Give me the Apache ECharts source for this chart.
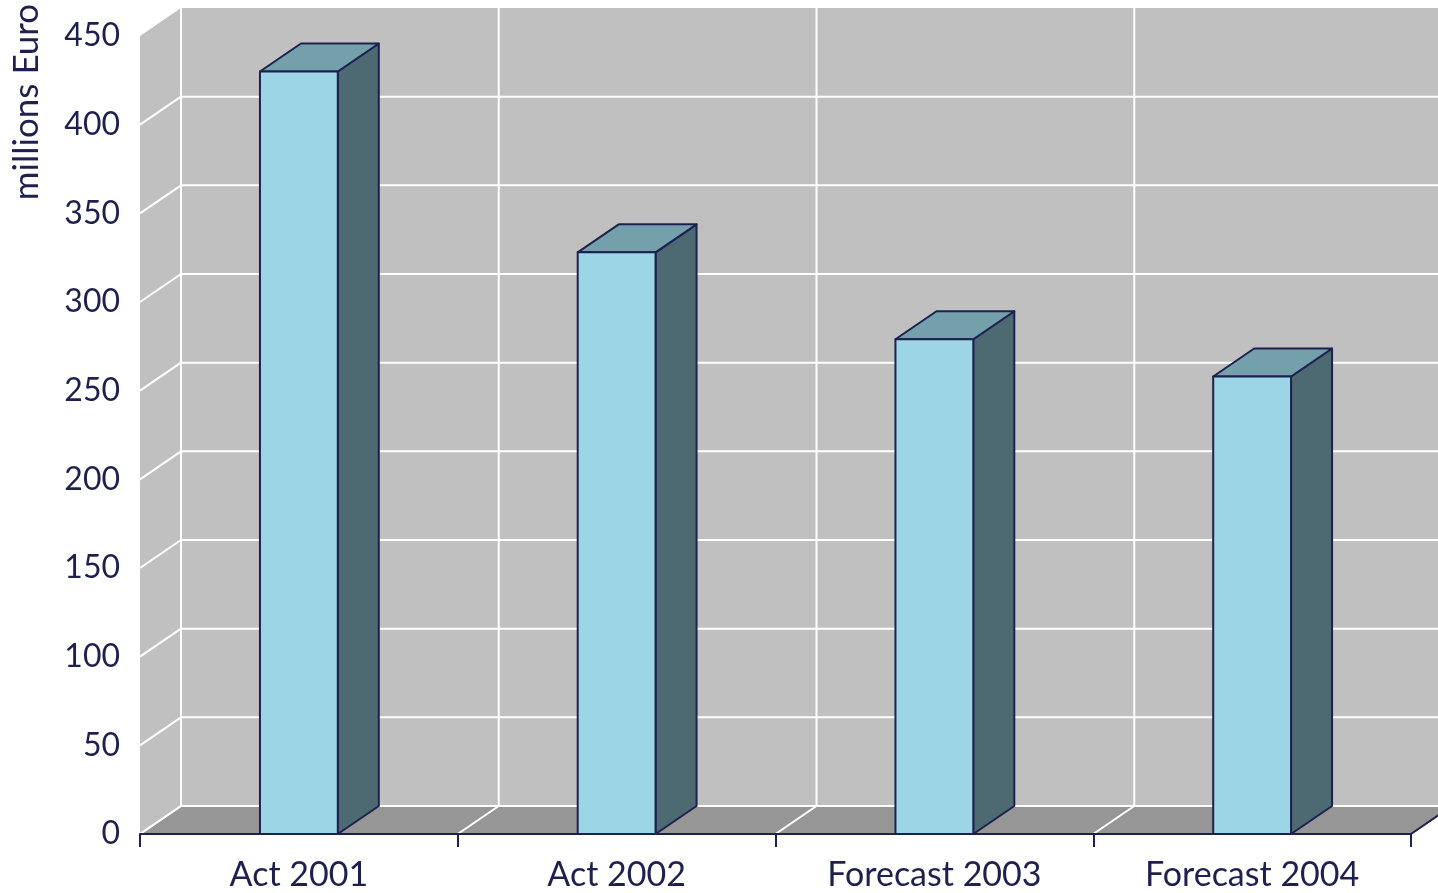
<!DOCTYPE html>
<html>
<head>
<meta charset="utf-8">
<title>millions Euro</title>
<script src="https://cdn.jsdelivr.net/npm/echarts@6/dist/echarts.min.js"></script>
<style>
  html, body { margin: 0; padding: 0; background: #ffffff; }
  #chart { width: 1438px; height: 893px; }
</style>
</head>
<body>
<div id="chart"></div>
<script>
// Chart data
const categories = ['Act 2001', 'Act 2002', 'Forecast 2003', 'Forecast 2004'];
const values = [430, 328, 279, 258];
const yTicks = [0, 50, 100, 150, 200, 250, 300, 350, 400, 450];
const yAxisTitle = 'millions Euro';

// Pseudo-3D depth offset and palette
const DX = 41, DY = -28;
const BAR_FRACTION = 0.245;
const NAVY = '#1e2150';
const WALL = '#c0c0c0';
const FLOOR = '#969696';
const FRONT = '#9cd5e5';
const TOP = '#74a0ac';
const SIDE = '#4d6a72';
const FONT = 'Lato, "Open Sans", sans-serif';

const chart = echarts.init(document.getElementById('chart'), null, { renderer: 'canvas' });

function renderWalls(params, api) {
  const bw = api.size([1, 0])[0];
  const c0 = api.coord([0, 0]);
  const left = c0[0] - bw / 2;
  const right = left + categories.length * bw;
  const yB = c0[1];
  const yT = api.coord([0, yTicks[yTicks.length - 1]])[1];
  const white = { stroke: '#ffffff', lineWidth: 2 };
  const kids = [];
  // back wall
  kids.push({ type: 'rect', shape: { x: left + DX, y: yT + DY, width: right - left, height: yB - yT }, style: { fill: WALL } });
  // side wall
  kids.push({ type: 'polygon', shape: { points: [[left, yB], [left, yT], [left + DX, yT + DY], [left + DX, yB + DY]] }, style: { fill: WALL } });
  // floor
  kids.push({ type: 'polygon', shape: { points: [[left, yB], [right, yB], [right + DX, yB + DY], [left + DX, yB + DY]] }, style: { fill: FLOOR } });
  // horizontal grid lines on side and back walls
  yTicks.forEach(function (t) {
    if (t === yTicks[yTicks.length - 1]) return;
    const y = api.coord([0, t])[1];
    kids.push({ type: 'line', shape: { x1: left, y1: y, x2: left + DX, y2: y + DY }, style: white });
    kids.push({ type: 'line', shape: { x1: left + DX, y1: y + DY, x2: right + DX, y2: y + DY }, style: white });
  });
  // category boundaries on back wall and floor
  for (let i = 0; i <= categories.length; i++) {
    const x = left + i * bw;
    if (i < categories.length) {
      kids.push({ type: 'line', shape: { x1: x + DX, y1: yT + DY, x2: x + DX, y2: yB + DY }, style: white });
      kids.push({ type: 'line', shape: { x1: x, y1: yB, x2: x + DX, y2: yB + DY }, style: white });
    } else {
      kids.push({ type: 'line', shape: { x1: x, y1: yB, x2: x + DX, y2: yB + DY }, style: { stroke: NAVY, lineWidth: 2 } });
    }
  }
  return { type: 'group', children: kids };
}

function renderBar(params, api) {
  const idx = api.value(0);
  const v = api.value(1);
  const bw = api.size([1, 0])[0];
  const w = bw * BAR_FRACTION;
  const pb = api.coord([idx, 0]);
  const pt = api.coord([idx, v]);
  const l = pb[0] - w / 2, r = pb[0] + w / 2;
  const b = pb[1], t = pt[1];
  const edge = { stroke: NAVY, lineWidth: 2, lineJoin: 'round' };
  return {
    type: 'group',
    children: [
      { type: 'polygon', shape: { points: [[r, t], [r + DX, t + DY], [r + DX, b + DY], [r, b]] }, style: Object.assign({ fill: SIDE }, edge) },
      { type: 'polygon', shape: { points: [[l, t], [l + DX, t + DY], [r + DX, t + DY], [r, t]] }, style: Object.assign({ fill: TOP }, edge) },
      { type: 'rect', shape: { x: l, y: t, width: w, height: b - t }, style: Object.assign({ fill: FRONT }, edge) }
    ]
  };
}

const option = {
  backgroundColor: '#ffffff',
  animation: false,
  grid: { left: 140, right: 27, top: 36, bottom: 59, containLabel: false },
  xAxis: {
    type: 'category',
    data: categories,
    boundaryGap: true,
    z: 10,
    axisLine: { show: true, lineStyle: { color: NAVY, width: 2 } },
    axisTick: { show: true, length: 13, alignWithLabel: false, lineStyle: { color: NAVY, width: 2 } },
    axisLabel: { color: NAVY, fontFamily: FONT, fontSize: 34, margin: 24 },
    splitLine: { show: false }
  },
  yAxis: {
    type: 'value',
    min: 0,
    max: 450,
    interval: 50,
    axisLine: { show: false },
    axisTick: { show: false },
    splitLine: { show: false },
    axisLabel: { color: NAVY, fontFamily: FONT, fontSize: 32, margin: 20 }
  },
  graphic: [{
    type: 'text',
    x: 27,
    y: 102,
    rotation: Math.PI / 2,
    style: { text: yAxisTitle, fill: NAVY, font: '35px ' + FONT, align: 'center', verticalAlign: 'middle' }
  }],
  series: [
    {
      type: 'custom',
      z: 1,
      renderItem: renderWalls,
      data: [[0, 0]],
      encode: { x: 0, y: 1 },
      silent: true
    },
    {
      type: 'custom',
      z: 3,
      renderItem: renderBar,
      data: values.map(function (v, i) { return [i, v]; }),
      encode: { x: 0, y: 1 }
    }
  ]
};

chart.setOption(option);
</script>
</body>
</html>
